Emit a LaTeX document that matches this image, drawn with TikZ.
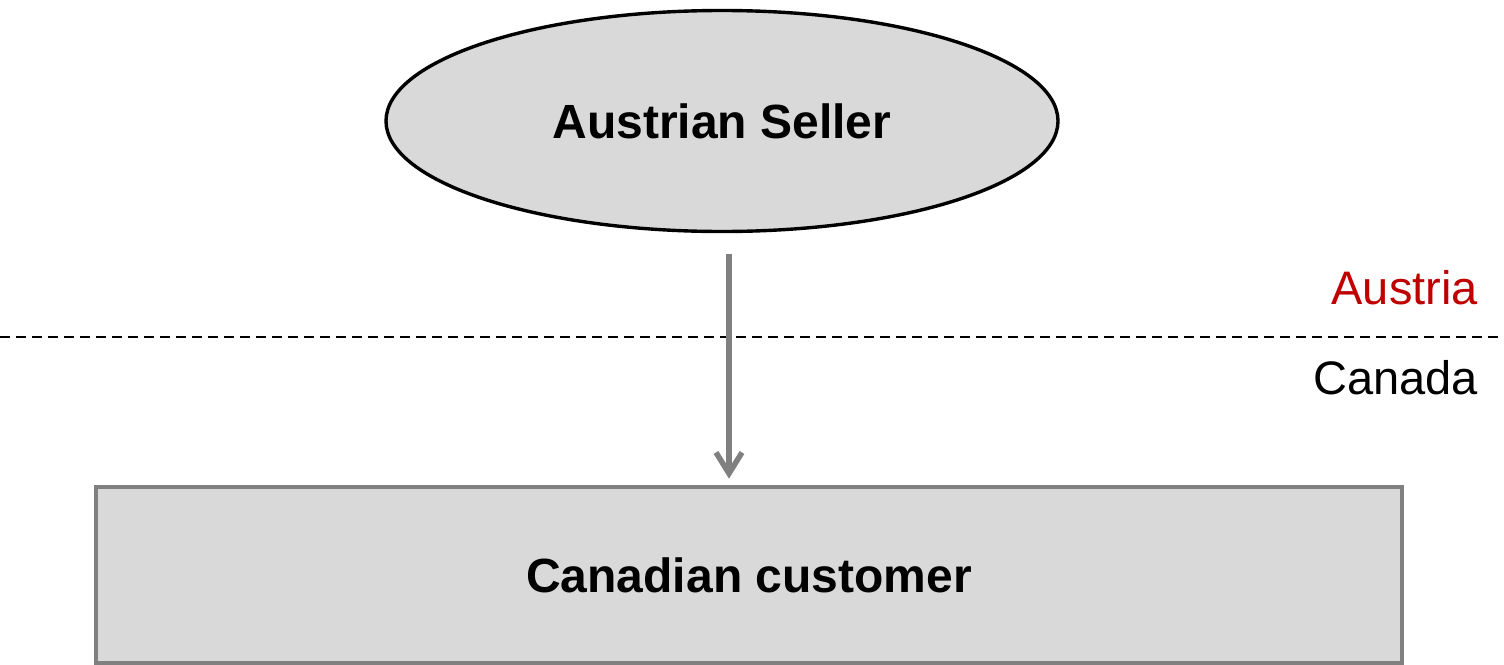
\documentclass[tikz,border=0pt]{standalone}
\usepackage{fontspec}
\setmainfont{Liberation Sans}
\usetikzlibrary{arrows.meta,shapes.geometric,calc}
\definecolor{fillgray}{HTML}{D9D9D9}
\definecolor{edgegray}{HTML}{808080}
\definecolor{darkred}{HTML}{C00000}
\tikzset{
  bigfont/.style={font=\fontsize{47}{56}\selectfont},
  sellernode/.style={ellipse,draw=black,line width=3.4pt,fill=fillgray,minimum width=672pt,minimum height=221pt,inner sep=0pt,font=\fontsize{48}{56}\selectfont\bfseries},
  custnode/.style={rectangle,draw=edgegray,line width=4.6pt,fill=fillgray,minimum width=1306pt,minimum height=176pt,inner sep=0pt,font=\fontsize{48}{56}\selectfont\bfseries},
  flowarrow/.style={draw=edgegray,line width=5.5pt,-{Straight Barb[length=21pt,width=26pt,line width=5.5pt]}},
  borderline/.style={draw=black,line width=2.2pt,dash pattern=on 10pt off 6pt},
  countrylabel/.style={anchor=base east,inner sep=0pt,bigfont}
}
\begin{document}
\begin{tikzpicture}[x=1pt,y=1pt]
\useasboundingbox (0,0) rectangle (1504,-664);
\node[sellernode] (seller) at (722,-121) {Austrian Seller};
\node[custnode] (cust) at (749,-575) {Canadian customer};
\coordinate (bl) at (0,-337);
\coordinate (br) at (1504,-337);
\draw[borderline] (bl) -- (br);
\node[countrylabel,text=darkred] (austria) at (1478,-304) {Austria};
\node[countrylabel,text=black] (canada) at (1478,-394) {Canada};
\draw[flowarrow,shorten <=21pt,shorten >=6pt] ($(seller.south)+(7,0)$) -- ($(cust.north)+(-20,0)$);
\end{tikzpicture}
\end{document}
